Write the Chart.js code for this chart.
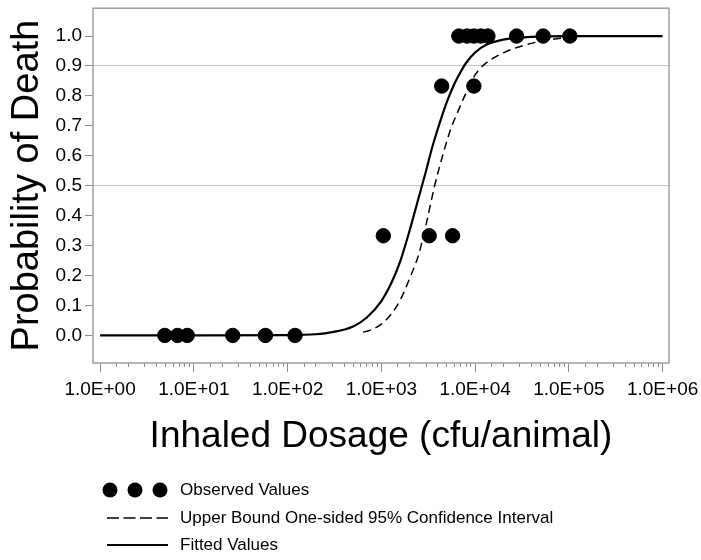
<!DOCTYPE html>
<html>
<head>
<meta charset="utf-8">
<title>Probability of Death vs Inhaled Dosage</title>
<script src="https://cdn.jsdelivr.net/npm/chart.js@4.4.1/dist/chart.umd.min.js"></script>
<style>
  body { margin: 0; background: #fff; }
  #wrap { position: relative; width: 701px; height: 560px; }
  #legend { position: absolute; left: 0; top: 0; font: 17px "Liberation Sans", Arial, sans-serif; color: #000; }
  .item { position: absolute; left: 100px; height: 22px; display: flex; align-items: center; white-space: nowrap; }
  .item svg { width: 72px; height: 22px; margin-right: 8px; }
</style>
</head>
<body>
<div id="wrap">
  <canvas id="doseChart" width="701" height="560"></canvas>
  <div id="legend"></div>
</div>
<script>
// observed animals (dose in cfu, fraction dead)
const obsDose = [4.9, 6.7, 8.5, 26, 58, 120, 1050, 3240, 5750, 4400, 9700, 6700, 8200, 9700, 11500, 13700, 27700, 53200, 102500];
const obsProb = [0, 0, 0, 0, 0, 0, 0.333, 0.333, 0.333, 0.833, 0.833, 1, 1, 1, 1, 1, 1, 1, 1];

// fitted dose-response curve
const fitDose = [1, 10, 100, 200, 300, 500, 700, 1000, 1300, 1600, 2000, 2500, 3000, 3500, 4000, 5000, 6000, 7000, 8000, 10000, 13000, 20000, 40000, 100000, 1000000];
const fitProb = [0, 0, 0.001, 0.004, 0.011, 0.03, 0.06, 0.115, 0.18, 0.25, 0.35, 0.46, 0.55, 0.63, 0.69, 0.78, 0.84, 0.88, 0.91, 0.945, 0.97, 0.988, 0.997, 1, 1];

// upper bound of the one-sided 95% CI
const upperDose = [640, 750, 1000, 1300, 1600, 2000, 2500, 3000, 3700, 4500, 5500, 6600, 8000, 10000, 12000, 20000, 35000, 60000, 100000];
const upperProb = [0.011, 0.017, 0.038, 0.075, 0.12, 0.19, 0.27, 0.37, 0.5, 0.6, 0.69, 0.75, 0.81, 0.87, 0.9, 0.944, 0.971, 0.987, 0.995];

const xTickValues = [1, 10, 100, 1000, 10000, 100000, 1000000];
const xTickLabels = ['1.0E+00', '1.0E+01', '1.0E+02', '1.0E+03', '1.0E+04', '1.0E+05', '1.0E+06'];
const yTickValues = [0, 0.1, 0.2, 0.3, 0.4, 0.5, 0.6, 0.7, 0.8, 0.9, 1.0];
const yTickLabels = ['0.0', '0.1', '0.2', '0.3', '0.4', '0.5', '0.6', '0.7', '0.8', '0.9', '1.0'];
const refLines = [0.5, 0.9];

const fam = "'Liberation Sans', Arial, sans-serif";
Chart.defaults.font.family = fam;
Chart.defaults.color = '#000';

const pts = (xs, ys) => xs.map((x, i) => ({x: x, y: ys[i]}));

// grey box round the plot area
const frame = {
  id: 'frame',
  beforeDatasetsDraw(chart) {
    const {ctx, chartArea: a} = chart;
    ctx.save();
    ctx.strokeStyle = '#9e9e9e';
    ctx.lineWidth = 1.5;
    ctx.strokeRect(a.left, a.top, a.right - a.left, a.bottom - a.top);
    ctx.restore();
  }
};

const chart = new Chart(document.getElementById('doseChart'), {
  type: 'scatter',
  data: {
    datasets: [{
      label: 'Observed Values',
      data: pts(obsDose, obsProb),
      backgroundColor: '#000',
      borderColor: '#000',
      pointRadius: 7.2,
      showLine: false
    }, {
      label: 'Upper Bound One-sided 95% Confidence Interval',
      data: pts(upperDose, upperProb),
      borderColor: '#000',
      borderWidth: 1.5,
      borderDash: [8, 5],
      pointRadius: 0,
      showLine: true,
      cubicInterpolationMode: 'monotone'
    }, {
      label: 'Fitted Values',
      data: pts(fitDose, fitProb),
      borderColor: '#000',
      borderWidth: 2.2,
      pointRadius: 0,
      showLine: true,
      cubicInterpolationMode: 'monotone'
    }]
  },
  options: {
    responsive: false,
    animation: false,
    layout: { padding: { top: 5, right: 32, left: 0, bottom: 0 } },
    plugins: {
      legend: { display: false },
      tooltip: { enabled: false }
    },
    scales: {
      x: {
        type: 'logarithmic',
        min: 0.84,
        max: 1.17e6,
        afterFit: s => { s.height = 197; s.paddingLeft = 0; s.paddingRight = 0; },
        afterBuildTicks: s => { s.ticks = s.ticks.filter(t => t.value >= 0.999 && t.value <= 1000001); },
        grid: {
          drawOnChartArea: false,
          tickLength: 9,
          tickColor: '#8c8c8c',
          tickWidth: 1,
          tickBorderDash: c => (c.tick && c.tick.major) ? [] : [4, 40]
        },
        border: { display: false },
        ticks: {
          autoSkip: false,
          maxRotation: 0,
          padding: 6,
          font: { size: 19 },
          callback: v => {
            const i = xTickValues.findIndex(t => Math.abs(Math.log10(t) - Math.log10(v)) < 1e-6);
            return i >= 0 ? xTickLabels[i] : '';
          }
        },
        title: {
          display: true,
          text: 'Inhaled Dosage (cfu/animal)',
          font: { size: 37 },
          padding: { top: 0, bottom: 101 }
        }
      },
      y: {
        min: -0.092,
        max: 1.093,
        afterFit: s => { s.width = 93; s.paddingTop = 0; s.paddingBottom = 0; },
        afterBuildTicks: s => { s.ticks = yTickValues.map(v => ({value: v})); },
        grid: {
          color: c => (c.tick && refLines.includes(c.tick.value)) ? '#c4c4c4' : 'rgba(0,0,0,0)',
          lineWidth: 1,
          tickLength: 8,
          tickColor: '#8c8c8c'
        },
        border: { display: false },
        ticks: {
          padding: 3,
          font: { size: 19 },
          callback: (v, i) => yTickLabels[i]
        },
        title: {
          display: true,
          text: 'Probability of Death',
          font: { size: 38 },
          padding: { top: 5, bottom: 0 }
        }
      }
    }
  },
  plugins: [frame]
});

// legend below the plot, one row per dataset
const rowY = [490, 518, 545];
const symbols = [
  '<svg viewBox="0 0 72 22"><circle cx="10" cy="11" r="7.5"/><circle cx="35" cy="11" r="7.5"/><circle cx="60" cy="11" r="7.5"/></svg>',
  '<svg viewBox="0 0 72 22"><line x1="7" y1="11" x2="68" y2="11" stroke="#000" stroke-width="1.5" stroke-dasharray="12 4.5"/></svg>',
  '<svg viewBox="0 0 72 22"><line x1="7" y1="11" x2="68" y2="11" stroke="#000" stroke-width="2"/></svg>'
];
const legend = document.getElementById('legend');
chart.data.datasets.forEach((ds, i) => {
  const item = document.createElement('div');
  item.className = 'item';
  item.style.top = (rowY[i] - 11) + 'px';
  item.innerHTML = symbols[i] + '<span>' + ds.label + '</span>';
  legend.appendChild(item);
});
</script>
</body>
</html>
